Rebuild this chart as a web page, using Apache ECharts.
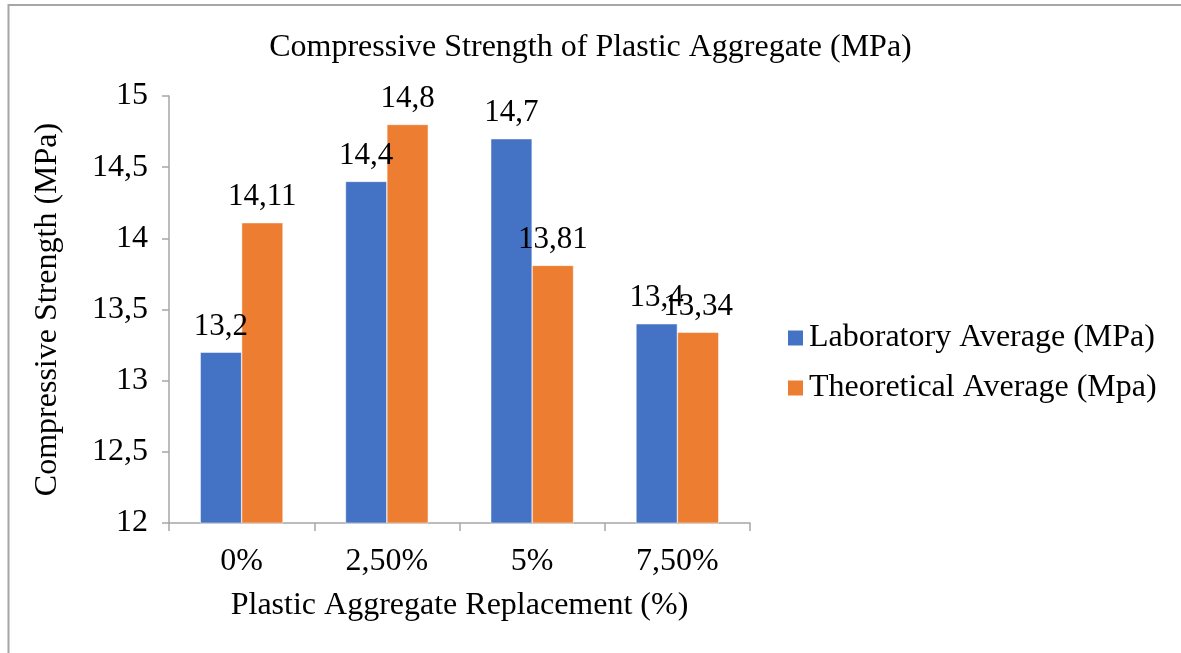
<!DOCTYPE html>
<html>
<head>
<meta charset="utf-8">
<script src="https://cdn.jsdelivr.net/npm/echarts@6/dist/echarts.min.js"></script>
<style>
html,body{margin:0;padding:0;background:#fff;}
#chart{width:1181px;height:653px;}
</style>
</head>
<body>
<div id="chart"></div>
<script>
const categories = ['0%', '2,50%', '5%', '7,50%'];
const seriesNames = ['Laboratory Average (MPa)', 'Theoretical Average (Mpa)'];
const laboratory = [13.2, 14.4, 14.7, 13.4];
const theoretical = [14.11, 14.8, 13.81, 13.34];
const yMin = 12, yMax = 15, yStep = 0.5;

const FONT = '"Liberation Serif", "Times New Roman", serif';
const comma = v => String(v).replace('.', ',');

const chart = echarts.init(document.getElementById('chart'));
const labelCfg = {
  show: true, position: 'top', distance: 10,
  color: '#000', fontFamily: FONT, fontSize: 31,
  formatter: p => comma(p.value)
};
chart.setOption({
  animation: false,
  backgroundColor: '#fff',
  graphic: [{
    type: 'rect', shape: {x: 8.5, y: 5, width: 1300, height: 800},
    style: {fill: 'none', stroke: '#A6A6A6', lineWidth: 2}, silent: true
  }],
  title: {
    text: 'Compressive Strength of Plastic Aggregate (MPa)',
    left: 'center', top: 32, padding: 0,
    textStyle: {fontFamily: FONT, fontSize: 32, fontWeight: 'normal', color: '#000'}
  },
  legend: {
    orient: 'vertical', left: 786, top: 322, padding: 0, itemWidth: 17, itemHeight: 17, itemGap: 18,
    icon: 'rect',
    textStyle: {fontFamily: FONT, fontSize: 32, color: '#000'},
    data: seriesNames
  },
  grid: {left: 169, right: 431, top: 96, bottom: 130, containLabel: false},
  xAxis: {
    type: 'category', data: categories,
    name: 'Plastic Aggregate Replacement (%)', nameLocation: 'middle', nameGap: 67,
    nameTextStyle: {fontFamily: FONT, fontSize: 32, color: '#000'},
    axisLine: {lineStyle: {color: '#A6A6A6', width: 1.5}},
    axisTick: {show: true, length: 8, lineStyle: {color: '#A6A6A6', width: 1.5}},
    axisLabel: {fontFamily: FONT, fontSize: 32, color: '#000', margin: 23}
  },
  yAxis: {
    type: 'value', min: yMin, max: yMax, interval: yStep,
    name: 'Compressive Strength (MPa)', nameLocation: 'middle', nameGap: 105,
    nameTextStyle: {fontFamily: FONT, fontSize: 32, color: '#000'},
    axisLine: {show: true, lineStyle: {color: '#A6A6A6', width: 1.5}},
    axisTick: {show: true, length: 7, lineStyle: {color: '#A6A6A6', width: 1.5}},
    splitLine: {show: false},
    axisLabel: {fontFamily: FONT, fontSize: 32, color: '#000', margin: 21, formatter: v => comma(v)}
  },
  series: [
    {name: seriesNames[0], type: 'bar', data: laboratory, barGap: '0%', barCategoryGap: '43%',
     itemStyle: {color: '#4472C4', borderColor: '#fff', borderWidth: 0.5}, label: labelCfg},
    {name: seriesNames[1], type: 'bar', data: theoretical,
     itemStyle: {color: '#ED7D31', borderColor: '#fff', borderWidth: 0.5}, label: labelCfg}
  ]
});
</script>
</body>
</html>
